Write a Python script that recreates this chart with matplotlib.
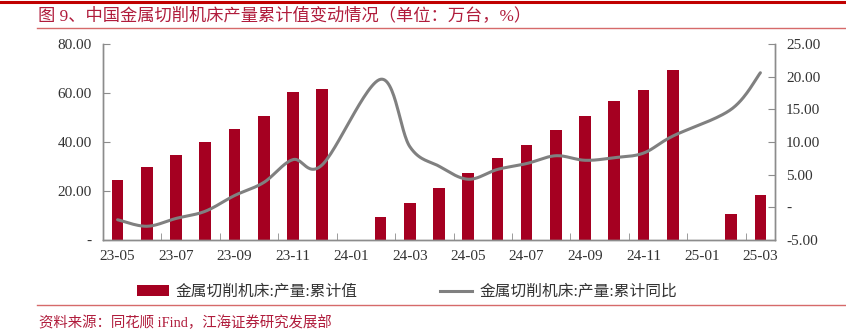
import numpy as np
import matplotlib
matplotlib.use("Agg")
from matplotlib import pyplot as plt
from matplotlib.lines import Line2D
from matplotlib.patches import Patch

plt.rcParams['font.family'] = ['Noto Sans CJK SC', 'DejaVu Sans']

months = ['23-05', '23-06', '23-07', '23-08', '23-09', '23-10', '23-11', '23-12',
          '24-01', '24-02', '24-03', '24-04', '24-05', '24-06', '24-07', '24-08',
          '24-09', '24-10', '24-11', '24-12', '25-01', '25-02', '25-03']
# cumulative output, 10k units (Jan has no separate release)
output = [24.5, 30.0, 34.7, 39.9, 45.3, 50.6, 60.3, 61.5, np.nan, 9.3, 15.2,
          21.2, 27.3, 33.6, 38.8, 44.9, 50.7, 56.7, 61.2, 69.4, np.nan, 10.5, 18.4]
# cumulative YoY, %
yoy = [-1.9, -2.9, -1.7, -0.6, 1.8, 3.8, 7.3, 6.5, np.nan, 19.6, 9.3, 6.3,
       4.3, 5.8, 6.7, 7.9, 7.2, 7.6, 8.3, 10.9, np.nan, 15.0, 20.6]

left_ticks = [0, 20, 40, 60, 80]
right_ticks = [-5, 0, 5, 10, 15, 20, 25]

bar_color = '#a50021'
line_color = '#808080'
spine_color = '#8c8c8c'
red = '#b01c3c'
serif = ['Liberation Serif', 'DejaVu Serif']
mixed = ['Liberation Serif', 'Noto Sans CJK SC']


def smooth(xs, ys, n=30):
  # Catmull-Rom style bezier through the points, like office "smoothed line"
  p = np.column_stack([xs, ys])
  out = []
  for i in range(len(p) - 1):
    p0 = p[i - 1] if i > 0 else p[i]
    p1, p2 = p[i], p[i + 1]
    p3 = p[i + 2] if i + 2 < len(p) else p[i + 1]
    c1 = p1 + (p2 - p0) / 6
    c2 = p2 - (p3 - p1) / 6
    t = np.linspace(0, 1, n)[:, None]
    seg = ((1 - t)**3) * p1 + 3 * ((1 - t)**2) * t * c1 + 3 * (1 - t) * t**2 * c2 + t**3 * p2
    out.append(seg if i == 0 else seg[1:])
  seg = np.vstack(out)
  return seg[:, 0], seg[:, 1]


fig = plt.figure(figsize=(8.46, 3.32), dpi=100)
ax = fig.add_axes([103/846, 1 - 240/332, 672/846, 196/332])
ax2 = ax.twinx()

x = np.arange(len(months))
out_arr = np.array(output)
ok = ~np.isnan(out_arr)
ax.bar(x[ok], out_arr[ok], width=0.4, color=bar_color, zorder=2)

yoy_arr = np.array(yoy)
ok2 = ~np.isnan(yoy_arr)
sx, sy = smooth(x[ok2].astype(float), yoy_arr[ok2])
ax2.plot(sx, sy, color=line_color, lw=2.2, solid_capstyle='round', zorder=3)

ax.set_xlim(-0.5, len(months) - 0.5)
ax.set_ylim(0, 80)
ax2.set_ylim(-5, 25)

fmt = lambda v: '-' if v == 0 else f'{v:.2f}'
ax.set_yticks(left_ticks)
ax.set_yticklabels([fmt(v) for v in left_ticks])
ax2.set_yticks(right_ticks)
ax2.set_yticklabels([fmt(v) for v in right_ticks])

ax.set_xticks(x[::2])
ax.set_xticklabels(months[::2])
ax.set_xticks(np.arange(1.5, len(months) - 1, 2), minor=True)

for a in (ax, ax2):
  for s in a.spines.values():
    s.set_color(spine_color)
    s.set_linewidth(1.0)
  a.spines['top'].set_visible(False)
  a.tick_params(axis='both', which='both', direction='in', color=spine_color,
                labelcolor='#333333', labelsize=11)
  for lab in a.get_yticklabels() + a.get_xticklabels():
    lab.set_fontfamily(serif)

ax.tick_params(axis='x', which='major', length=0, pad=7)
ax.tick_params(axis='x', which='minor', length=5)
ax.tick_params(axis='y', length=5, pad=8)
ax2.tick_params(axis='y', length=5, pad=8)

# header and footer rules
fig.add_artist(Line2D([0, 1], [1 - 1.5/332] * 2, color='#c00000', lw=2.2))
fig.add_artist(Line2D([37/846, 1], [1 - 28/332] * 2, color='#d66a6a', lw=1.0))
fig.add_artist(Line2D([37/846, 1], [1 - 305/332] * 2, color='#d66a6a', lw=1.0))

fig.text(38/846, 1 - 16/332, '图 9、中国金属切削机床产量累计值变动情况（单位：万台，%）',
         color=red, fontsize=12.45, va='center', ha='left', family=mixed)
fig.text(39/846, 1 - 323/332, '资料来源：同花顺 iFind，江海证券研究发展部',
         color=red, fontsize=10.4, va='center', ha='left', family=mixed)

handles = [Patch(facecolor=bar_color, edgecolor='none'),
           Line2D([], [], color=line_color, lw=2.2)]
labels = ['金属切削机床:产量:累计值', '金属切削机床:产量:累计同比']
leg = fig.legend(handles, labels, loc='center', bbox_to_anchor=(407/846, 1 - 292/332),
                 ncol=2, frameon=False, handlelength=2.05, handleheight=0.65,
                 handletextpad=0.45, columnspacing=5.25, labelcolor='#333333',
                 borderaxespad=0, borderpad=0, prop={'family': mixed, 'size': 11.3})

fig.savefig('out.png', dpi=100, facecolor='white')
